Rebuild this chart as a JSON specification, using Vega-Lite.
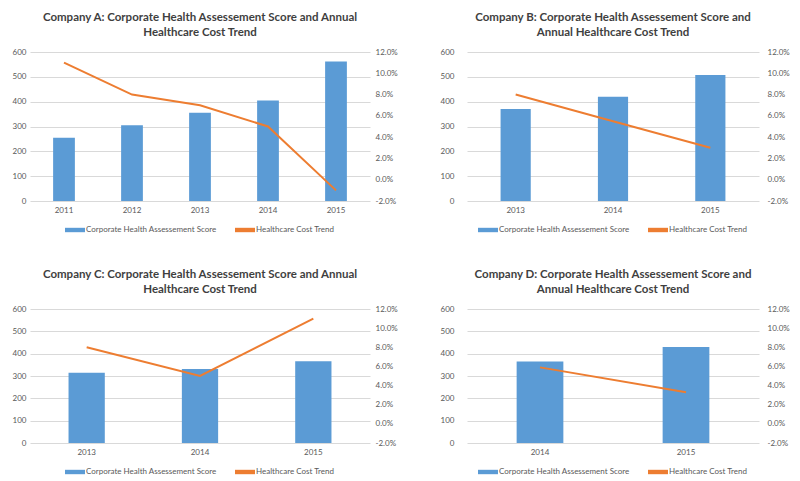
{
  "$schema": "https://vega.github.io/schema/vega-lite/v6.json",
  "background": "white",
  "padding": {"left": 12, "top": 11, "right": 4, "bottom": 0},
  "datasets": {
    "health": [
      {"company": "A", "year": 2011, "score": 255, "trend": 0.110},
      {"company": "A", "year": 2012, "score": 305, "trend": 0.080},
      {"company": "A", "year": 2013, "score": 355, "trend": 0.070},
      {"company": "A", "year": 2014, "score": 405, "trend": 0.050},
      {"company": "A", "year": 2015, "score": 562, "trend": -0.010},
      {"company": "B", "year": 2013, "score": 370, "trend": 0.080},
      {"company": "B", "year": 2014, "score": 420, "trend": 0.055},
      {"company": "B", "year": 2015, "score": 507, "trend": 0.030},
      {"company": "C", "year": 2013, "score": 314, "trend": 0.080},
      {"company": "C", "year": 2014, "score": 331, "trend": 0.050},
      {"company": "C", "year": 2015, "score": 366, "trend": 0.110},
      {"company": "D", "year": 2014, "score": 365, "trend": 0.059},
      {"company": "D", "year": 2015, "score": 430, "trend": 0.033}
    ]
  },
  "columns": 2,
  "spacing": {"column": 42, "row": 34},
  "resolve": {"scale": {"color": "independent", "x": "independent", "y": "independent"}, "legend": {"color": "independent"}, "axis": {"x": "independent", "y": "independent"}},
  "concat": [
    {
      "title": {"text": ["Company A: Corporate Health Assessement Score and Annual", "Healthcare Cost Trend"]},
      "width": 340, "height": 149,
      "data": {"name": "health"},
      "transform": [{"filter": "datum.company === 'A'"}],
      "encoding": {"x": {"field": "year", "type": "ordinal", "title": null, "scale": {"paddingInner": 0.68, "paddingOuter": 0.34}, "axis": {"labelAngle": 0, "labelPadding": 5}}},
      "layer": [
        {"mark": {"type": "bar", "color": "#5B9BD5"},
         "encoding": {
           "y": {"field": "score", "type": "quantitative", "scale": {"domain": [0, 600]}, "axis": {"values": [0, 100, 200, 300, 400, 500, 600], "title": null, "labelPadding": 4, "grid": true}},
           "color": {"datum": "Corporate Health Assessement Score", "scale": {"domain": ["Corporate Health Assessement Score", "Healthcare Cost Trend"], "range": ["#5B9BD5", "#ED7D31"]}}
         }},
        {"mark": {"type": "line", "strokeWidth": 2},
         "encoding": {
           "y": {"field": "trend", "type": "quantitative", "scale": {"domain": [-0.02, 0.12]}, "axis": {"orient": "right", "values": [-0.02, 0, 0.02, 0.04, 0.06, 0.08, 0.1, 0.12], "labelExpr": "replace(format(datum.value, '.1%'), '\u2212', '-')", "title": null, "grid": false, "labelPadding": 5}},
           "color": {"datum": "Healthcare Cost Trend"}
         }}
      ],
      "resolve": {"scale": {"y": "independent"}}
    },
    {
      "title": {"text": ["Company B: Corporate Health Assessement Score and", "Annual Healthcare Cost Trend"]},
      "width": 292, "height": 149,
      "data": {"name": "health"},
      "transform": [{"filter": "datum.company === 'B'"}],
      "encoding": {"x": {"field": "year", "type": "ordinal", "title": null, "scale": {"paddingInner": 0.69, "paddingOuter": 0.345}, "axis": {"labelAngle": 0, "labelPadding": 5}}},
      "layer": [
        {"mark": {"type": "bar", "color": "#5B9BD5"},
         "encoding": {
           "y": {"field": "score", "type": "quantitative", "scale": {"domain": [0, 600]}, "axis": {"values": [0, 100, 200, 300, 400, 500, 600], "title": null, "labelPadding": 13, "grid": true}},
           "color": {"datum": "Corporate Health Assessement Score", "scale": {"domain": ["Corporate Health Assessement Score", "Healthcare Cost Trend"], "range": ["#5B9BD5", "#ED7D31"]}}
         }},
        {"mark": {"type": "line", "strokeWidth": 2},
         "encoding": {
           "y": {"field": "trend", "type": "quantitative", "scale": {"domain": [-0.02, 0.12]}, "axis": {"orient": "right", "values": [-0.02, 0, 0.02, 0.04, 0.06, 0.08, 0.1, 0.12], "labelExpr": "replace(format(datum.value, '.1%'), '\u2212', '-')", "title": null, "grid": false, "labelPadding": 8}},
           "color": {"datum": "Healthcare Cost Trend"}
         }}
      ],
      "resolve": {"scale": {"y": "independent"}}
    },
    {
      "title": {"text": ["Company C: Corporate Health Assessement Score and Annual", "Healthcare Cost Trend"]},
      "width": 340, "height": 134,
      "data": {"name": "health"},
      "transform": [{"filter": "datum.company === 'C'"}],
      "encoding": {"x": {"field": "year", "type": "ordinal", "title": null, "scale": {"paddingInner": 0.68, "paddingOuter": 0.34}, "axis": {"labelAngle": 0, "labelPadding": 5}}},
      "layer": [
        {"mark": {"type": "bar", "color": "#5B9BD5"},
         "encoding": {
           "y": {"field": "score", "type": "quantitative", "scale": {"domain": [0, 600]}, "axis": {"values": [0, 100, 200, 300, 400, 500, 600], "title": null, "labelPadding": 4, "grid": true}},
           "color": {"datum": "Corporate Health Assessement Score", "scale": {"domain": ["Corporate Health Assessement Score", "Healthcare Cost Trend"], "range": ["#5B9BD5", "#ED7D31"]}}
         }},
        {"mark": {"type": "line", "strokeWidth": 2},
         "encoding": {
           "y": {"field": "trend", "type": "quantitative", "scale": {"domain": [-0.02, 0.12]}, "axis": {"orient": "right", "values": [-0.02, 0, 0.02, 0.04, 0.06, 0.08, 0.1, 0.12], "labelExpr": "replace(format(datum.value, '.1%'), '\u2212', '-')", "title": null, "grid": false, "labelPadding": 5}},
           "color": {"datum": "Healthcare Cost Trend"}
         }}
      ],
      "resolve": {"scale": {"y": "independent"}}
    },
    {
      "title": {"text": ["Company D: Corporate Health Assessement Score and", "Annual Healthcare Cost Trend"]},
      "width": 292, "height": 134,
      "data": {"name": "health"},
      "transform": [{"filter": "datum.company === 'D'"}],
      "encoding": {"x": {"field": "year", "type": "ordinal", "title": null, "scale": {"paddingInner": 0.68, "paddingOuter": 0.34}, "axis": {"labelAngle": 0, "labelPadding": 5}}},
      "layer": [
        {"mark": {"type": "bar", "color": "#5B9BD5"},
         "encoding": {
           "y": {"field": "score", "type": "quantitative", "scale": {"domain": [0, 600]}, "axis": {"values": [0, 100, 200, 300, 400, 500, 600], "title": null, "labelPadding": 13, "grid": true}},
           "color": {"datum": "Corporate Health Assessement Score", "scale": {"domain": ["Corporate Health Assessement Score", "Healthcare Cost Trend"], "range": ["#5B9BD5", "#ED7D31"]}}
         }},
        {"mark": {"type": "line", "strokeWidth": 2},
         "encoding": {
           "y": {"field": "trend", "type": "quantitative", "scale": {"domain": [-0.02, 0.12]}, "axis": {"orient": "right", "values": [-0.02, 0, 0.02, 0.04, 0.06, 0.08, 0.1, 0.12], "labelExpr": "replace(format(datum.value, '.1%'), '\u2212', '-')", "title": null, "grid": false, "labelPadding": 8}},
           "color": {"datum": "Healthcare Cost Trend"}
         }}
      ],
      "resolve": {"scale": {"y": "independent"}}
    }
  ],
  "config": {
    "font": "Lato",
    "view": {"stroke": null},
    "axis": {"labelColor": "#595959", "labelFontSize": 8, "domain": false, "ticks": false, "gridColor": "#D9D9D9", "gridWidth": 1},
    "title": {"fontSize": 11.5, "fontWeight": "bold", "color": "#3F3F3F", "anchor": "middle", "offset": 10, "lineHeight": 15},
    "legend": {
      "orient": "bottom", "direction": "horizontal", "title": null, "offset": 6,
      "labelFontSize": 8, "labelColor": "#595959", "labelOffset": 1, "columnPadding": 18,
      "symbolSize": 400, "symbolType": "M-1,-0.22H1V0.22H-1Z", "symbolStrokeWidth": 0,
      "layout": {"bottom": {"anchor": "middle"}},
      "encode": {
        "symbols": {
          "update": {
            "shape": {"signal": "datum.value === 'Healthcare Cost Trend' ? 'M-1,-0.09H1V0.09H-1Z' : 'M-1,-0.22H1V0.22H-1Z'"}
          }
        }
      }
    }
  }
}
